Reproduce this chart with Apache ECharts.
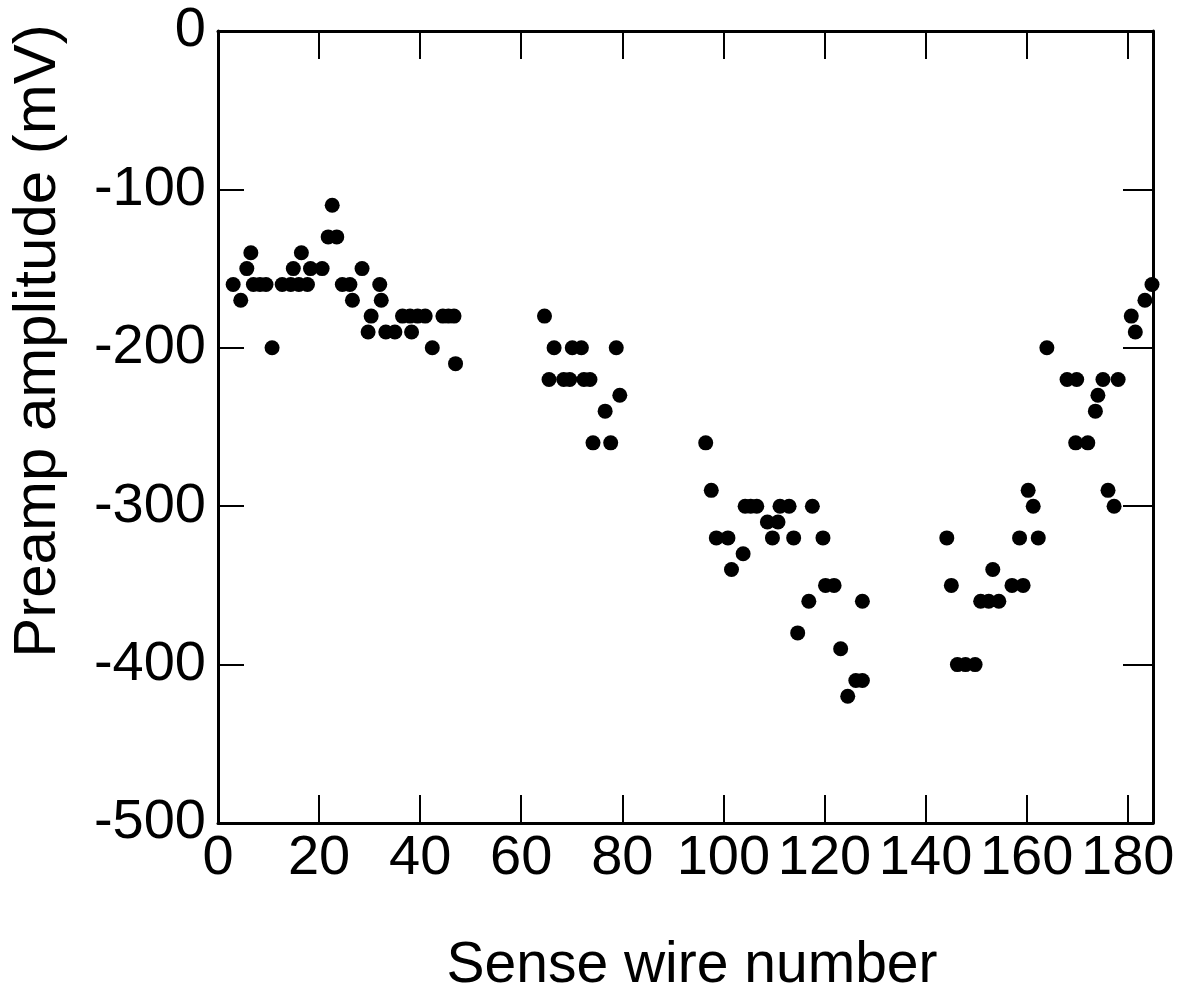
<!DOCTYPE html>
<html>
<head>
<meta charset="utf-8">
<script src="https://cdn.jsdelivr.net/npm/echarts@6/dist/echarts.min.js"></script>
<style>
  html, body { margin: 0; background: #fff; }
  #chart { width: 1186px; height: 1006px; }
</style>
</head>
<body>
<div id="chart"></div>
<script>
// values (wire number, amplitude in mV)
const wireNumber = [
  3, 4.5, 5.7, 6.5, 7, 8.3, 9.5, 10.7, 12.7, 14.4, 16, 17.7, 14.9, 16.5, 18.3, 20.6,
  21.8, 23.5, 22.6, 24.6, 26.1, 26.6, 28.5, 29.7, 30.3, 32, 32.3, 33.2, 35,
  36.5, 38, 39.5, 41, 38.3, 42.4, 44.5, 45.6, 46.7, 47,
  64.6, 66.5, 70.1, 71.9, 78.8, 65.5, 68.4, 69.6, 72.4, 73.6, 79.5, 76.6, 74.2, 77.7,
  96.5, 97.6, 104.3, 105.4, 106.6, 111.2, 113, 117.6, 108.7, 110.8, 98.6, 100.9,
  109.7, 113.9, 119.7, 103.9, 101.6, 120.2, 121.9, 116.9, 127.5, 114.7, 123.2,
  126.2, 127.5, 124.6,
  144.2, 158.6, 162.3, 153.3, 145.1, 157.1, 159.3, 150.9, 152.5, 154.5, 146.3,
  147.9, 149.8, 160.3, 161.3, 164, 168, 169.9, 175.1, 178.1, 174.1, 173.6, 169.7,
  172.1, 176.1, 177.3, 180.7, 181.5, 183.4, 184.8
]
const amplitude = [
  -160, -170, -150, -140, -160, -160, -160, -200, -160, -160, -160, -160, -150, -140, -150, -150,
  -130, -130, -110, -160, -160, -170, -150, -190, -180, -160, -170, -190, -190,
  -180, -180, -180, -180, -190, -200, -180, -180, -180, -210,
  -180, -200, -200, -200, -200, -220, -220, -220, -220, -220, -230, -240, -260, -260,
  -260, -290, -300, -300, -300, -300, -300, -300, -310, -310, -320, -320,
  -320, -320, -320, -330, -340, -350, -350, -360, -360, -380, -390,
  -410, -410, -420,
  -320, -320, -320, -340, -350, -350, -350, -360, -360, -360, -400,
  -400, -400, -290, -300, -200, -220, -220, -220, -220, -230, -240, -260,
  -260, -290, -300, -180, -190, -170, -160
]
const xTickLabels = [0, 20, 40, 60, 80, 100, 120, 140, 160, 180]
const yTickLabels = [-500, -400, -300, -200, -100, 0]

const points = wireNumber.map((w, i) => [w, amplitude[i]])
const labelFont = '"Liberation Sans", Arial, sans-serif'

const myChart = echarts.init(document.getElementById('chart'))

const lineStyle = { color: '#000', width: 3 }
const tickStyle = { color: '#000', width: 2 }

myChart.setOption({
  backgroundColor: '#fff',
  animation: false,
  grid: {
    left: 218,
    top: 31,
    right: 33,
    bottom: 183
  },
  xAxis: [{
    type: 'value',
    min: 0,
    max: 185,
    interval: 20,
    position: 'bottom',
    axisLine: { onZero: false, lineStyle: lineStyle },
    axisTick: { inside: true, length: 28, lineStyle: tickStyle },
    splitLine: { show: false },
    axisLabel: {
      margin: 8,
      color: '#000',
      fontSize: 56,
      fontFamily: labelFont,
      formatter: function (value) {
        return xTickLabels.indexOf(value) > -1 ? String(value) : ''
      }
    }
  }, {
    type: 'value',
    min: 0,
    max: 185,
    interval: 20,
    position: 'top',
    axisLine: { onZero: false, lineStyle: lineStyle },
    axisTick: { inside: true, length: 28, lineStyle: tickStyle },
    splitLine: { show: false },
    axisLabel: { show: false }
  }],
  yAxis: [{
    type: 'value',
    min: -500,
    max: 0,
    interval: 100,
    position: 'left',
    axisLine: { onZero: false, lineStyle: lineStyle },
    axisTick: { inside: true, length: 26, lineStyle: tickStyle },
    splitLine: { show: false },
    axisLabel: {
      margin: 12,
      color: '#000',
      fontSize: 56,
      fontFamily: labelFont,
      formatter: function (value) {
        return yTickLabels.indexOf(value) > -1 ? String(value) : ''
      }
    }
  }, {
    type: 'value',
    min: -500,
    max: 0,
    interval: 100,
    position: 'right',
    axisLine: { onZero: false, lineStyle: lineStyle },
    axisTick: { inside: true, length: 30, lineStyle: tickStyle },
    splitLine: { show: false },
    axisLabel: { show: false }
  }],
  graphic: [{
    type: 'text',
    x: 38,
    y: 341,
    rotation: Math.PI / 2,
    style: {
      text: 'Preamp amplitude (mV)',
      font: '60px ' + labelFont,
      fill: '#000',
      textAlign: 'center',
      textVerticalAlign: 'middle'
    }
  }, {
    type: 'text',
    x: 692,
    y: 966,
    style: {
      text: 'Sense wire number',
      font: '57px ' + labelFont,
      fill: '#000',
      textAlign: 'center',
      textVerticalAlign: 'middle'
    }
  }],
  series: [{
    type: 'scatter',
    xAxisIndex: 0,
    yAxisIndex: 0,
    symbol: 'circle',
    symbolSize: 15,
    itemStyle: { color: '#000', opacity: 1 },
    data: points
  }]
})
</script>
</body>
</html>
